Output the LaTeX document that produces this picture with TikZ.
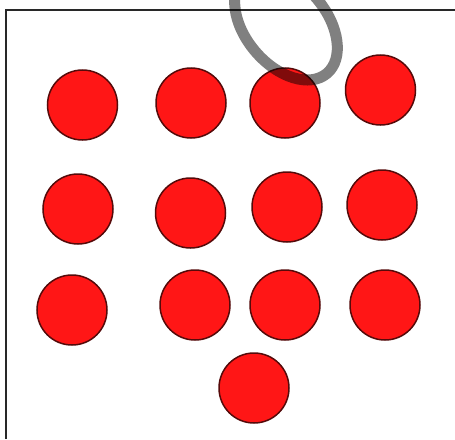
\documentclass[tikz,border=0pt]{standalone}
\definecolor{ballred}{RGB}{255,22,22}
\definecolor{balledge}{RGB}{85,10,10}
\definecolor{loopgray}{RGB}{128,128,128}
\definecolor{framegray}{RGB}{40,40,40}
\tikzset{
  ball/.style={circle, draw=balledge, fill=ballred, line width=1.5pt, minimum size=70pt, inner sep=0pt},
  frm/.style={draw=framegray, line width=2.6pt},
  lasso/.style={draw=loopgray, line width=11pt, blend mode=multiply},
}
\begin{document}
\begin{tikzpicture}[x=1pt, y=-1pt]
\useasboundingbox (0,0) rectangle (455,439);
\clip (0,0) rectangle (455,439);
% frame, open to the right and below
\draw[frm] (6,439) |- (455,10);
% first row
\node[ball] (b11) at (82.5,105) {};
\node[ball] (b12) at (191,103) {};
\node[ball] (b13) at (285,103) {};
\node[ball] (b14) at (380.5,90) {};
% second row
\node[ball] (b21) at (78,209) {};
\node[ball] (b22) at (190.5,213) {};
\node[ball] (b23) at (287,207) {};
\node[ball] (b24) at (382,205) {};
% third row
\node[ball] (b31) at (72,310) {};
\node[ball] (b32) at (195,305) {};
\node[ball] (b33) at (285,305) {};
\node[ball] (b34) at (385,305) {};
% the last one
\node[ball] (b41) at (254,388) {};
% loop over the top
\draw[lasso] (286,25) ellipse [x radius=63.4, y radius=40.5, rotate=-49.7];
\end{tikzpicture}
\end{document}
